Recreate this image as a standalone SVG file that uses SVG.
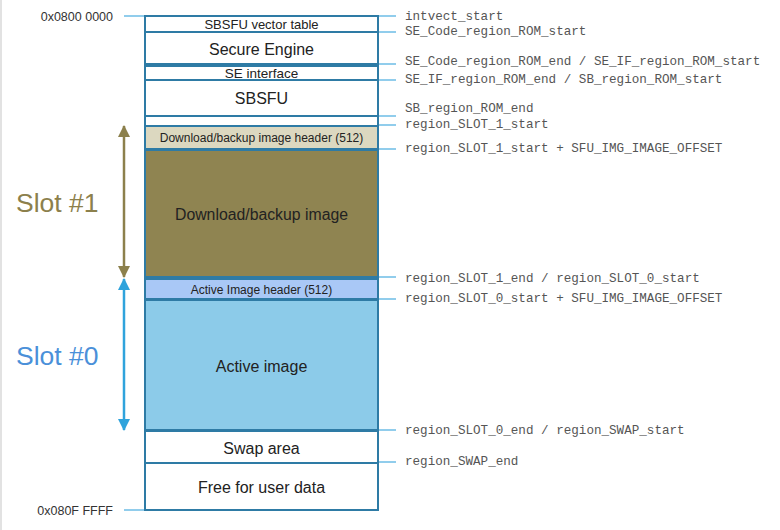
<svg xmlns="http://www.w3.org/2000/svg" width="780" height="530" viewBox="0 0 780 530">
<style>
.box{stroke:#2e7ba5;stroke-width:2}
.t{font-family:"Liberation Sans",Arial,sans-serif;fill:#222;text-anchor:middle}
.m{font-family:"Liberation Mono","Courier New",monospace;font-size:12.6px;fill:#555}
.tick{stroke:#6cbde6;stroke-width:1.5}
.addr{font-family:"Liberation Sans",Arial,sans-serif;font-size:12.5px;fill:#333;text-anchor:end}
</style>
<defs>
<marker id="ho" viewBox="0 0 12 12" refX="11" refY="6" markerWidth="12" markerHeight="12" markerUnits="userSpaceOnUse" orient="auto"><path d="M0,0 L12,6 L0,12 z" fill="#8c804c"/></marker>
<marker id="hb" viewBox="0 0 12 12" refX="11" refY="6" markerWidth="12" markerHeight="12" markerUnits="userSpaceOnUse" orient="auto"><path d="M0,0 L12,6 L0,12 z" fill="#2fa3dc"/></marker>
</defs>
<rect x="0" y="0" width="780" height="530" fill="#fff"/>
<line x1="1" y1="0" x2="1" y2="530" stroke="#e2e2e2" stroke-width="2"/>

<g id="connectors">
<line class="tick" x1="124" y1="16" x2="145" y2="16"/>
<line class="tick" x1="124" y1="510" x2="145" y2="510"/>
<line class="tick" x1="378" y1="16" x2="396" y2="16"/>
<line class="tick" x1="378" y1="32" x2="396" y2="32"/>
<line class="tick" x1="378" y1="64" x2="396" y2="64"/>
<line class="tick" x1="378" y1="80" x2="396" y2="80"/>
<line class="tick" x1="378" y1="116" x2="396" y2="116"/>
<line class="tick" x1="378" y1="125" x2="396" y2="125"/>
<line class="tick" x1="378" y1="149" x2="396" y2="149"/>
<line class="tick" x1="378" y1="277" x2="396" y2="277"/>
<line class="tick" x1="378" y1="299" x2="396" y2="299"/>
<line class="tick" x1="378" y1="430" x2="396" y2="430"/>
<line class="tick" x1="378" y1="462" x2="396" y2="462"/>
<line x1="124" y1="202" x2="124" y2="126" stroke="#8c804c" stroke-width="2.5" marker-end="url(#ho)"/>
<line x1="124" y1="202" x2="124" y2="277" stroke="#8c804c" stroke-width="2.5" marker-end="url(#ho)"/>
<line x1="124" y1="355" x2="124" y2="279" stroke="#2fa3dc" stroke-width="2.5" marker-end="url(#hb)"/>
<line x1="124" y1="355" x2="124" y2="430" stroke="#2fa3dc" stroke-width="2.5" marker-end="url(#hb)"/>
</g>

<g id="vector-table"><rect class="box" x="145" y="16" width="233" height="16" fill="#fff"/><text class="t" x="261.5" y="29" font-size="13">SBSFU vector table</text></g>
<g id="secure-engine"><rect class="box" x="145" y="32" width="233" height="32" fill="#fff"/><text class="t" x="261.5" y="54.5" font-size="16">Secure Engine</text></g>
<g id="se-interface"><rect class="box" x="145" y="66" width="233" height="14" fill="#fff"/><text class="t" x="261.5" y="77.5" font-size="13.5">SE interface</text></g>
<g id="sbsfu"><rect class="box" x="145" y="80" width="233" height="36" fill="#fff"/><text class="t" x="261.5" y="104" font-size="16">SBSFU</text></g>
<g id="gap"><rect class="box" x="145" y="116" width="233" height="10" fill="#fff"/></g>
<g id="dl-header"><rect class="box" x="145" y="126" width="233" height="23" fill="#dcd8c0"/><text class="t" x="261.5" y="142" font-size="12">Download/backup image header (512)</text></g>
<g id="dl-image"><rect class="box" x="145" y="150" width="233" height="127" fill="#8f8451"/><text class="t" x="261.5" y="219.5" font-size="15.8">Download/backup image</text></g>
<g id="active-header"><rect class="box" x="145" y="279" width="233" height="20" fill="#a9c8f6"/><text class="t" x="261.5" y="293.5" font-size="12">Active Image header (512)</text></g>
<g id="active-image"><rect class="box" x="145" y="300" width="233" height="130" fill="#8ccbe9"/><text class="t" x="261.5" y="371.5" font-size="16">Active image</text></g>
<g id="swap"><rect class="box" x="145" y="431" width="233" height="32" fill="#fff"/><text class="t" x="261.5" y="453.5" font-size="16">Swap area</text></g>
<g id="free"><rect class="box" x="145" y="463" width="233" height="47" fill="#fff"/><text class="t" x="261.5" y="492.5" font-size="16">Free for user data</text></g>

<g id="labels">
<text class="addr" x="113" y="20.5">0x0800 0000</text>
<text class="addr" x="113" y="514.5">0x080F FFFF</text>
<text x="16" y="212" font-family="Liberation Sans,Arial,sans-serif" font-size="26.5" fill="#8c804c">Slot #1</text>
<text x="16" y="365" font-family="Liberation Sans,Arial,sans-serif" font-size="26.5" fill="#4a90d9">Slot #0</text>
<text class="m" x="405" y="20">intvect_start</text>
<text class="m" x="405" y="35">SE_Code_region_ROM_start</text>
<text class="m" x="405" y="65">SE_Code_region_ROM_end / SE_IF_region_ROM_start</text>
<text class="m" x="405" y="83">SE_IF_region_ROM_end / SB_region_ROM_start</text>
<text class="m" x="405" y="112">SB_region_ROM_end</text>
<text class="m" x="405" y="128">region_SLOT_1_start</text>
<text class="m" x="405" y="152">region_SLOT_1_start + SFU_IMG_IMAGE_OFFSET</text>
<text class="m" x="405" y="282">region_SLOT_1_end / region_SLOT_0_start</text>
<text class="m" x="405" y="302">region_SLOT_0_start + SFU_IMG_IMAGE_OFFSET</text>
<text class="m" x="405" y="434">region_SLOT_0_end / region_SWAP_start</text>
<text class="m" x="405" y="465">region_SWAP_end</text>
</g>
</svg>
